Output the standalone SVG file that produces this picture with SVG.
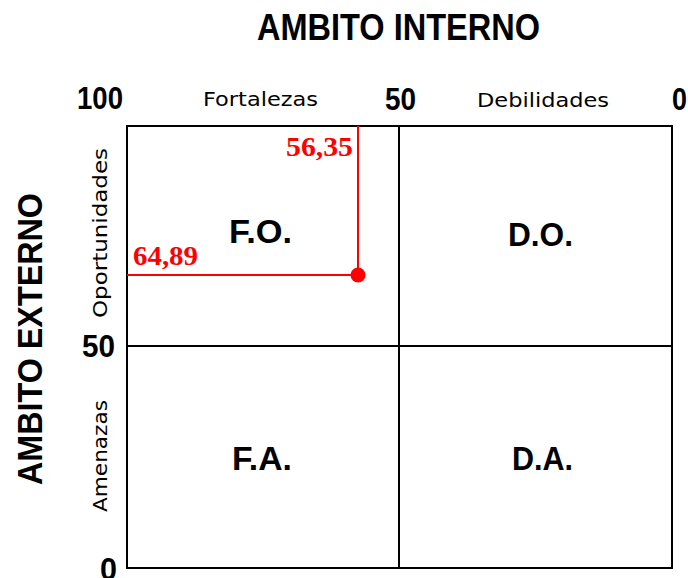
<svg xmlns="http://www.w3.org/2000/svg" width="688" height="578" viewBox="0 0 688 578">
  <style>
    .axis { fill: #000; font-family: "Liberation Sans", Arial, sans-serif; font-weight: bold; }
    .num { fill: #000; font-family: "Liberation Sans", Arial, sans-serif; font-weight: bold; font-size: 31px; }
    .small { fill: #000; font-family: "DejaVu Sans", "Liberation Sans", sans-serif; font-size: 19px; }
    .quad { fill: #000; font-family: "Liberation Sans", Arial, sans-serif; font-weight: bold; font-size: 34px; }
    .red { fill: #ff0000; font-family: "Liberation Serif", "Times New Roman", serif; font-weight: bold; font-size: 27px; }
    .frame { fill: none; stroke: #000; stroke-width: 2; }
    .rline { fill: none; stroke: #ff0000; stroke-width: 2; }
  </style>
  <rect width="688" height="578" fill="#fff"/>

  <g id="titles">
    <text class="axis" x="257" y="40" font-size="36" textLength="283" lengthAdjust="spacingAndGlyphs">AMBITO INTERNO</text>
    <text class="axis" font-size="35" transform="translate(42,339) rotate(-90)" text-anchor="middle" textLength="292" lengthAdjust="spacingAndGlyphs">AMBITO EXTERNO</text>
  </g>

  <g id="scale">
    <text class="num" x="77" y="109" textLength="46" lengthAdjust="spacingAndGlyphs">100</text>
    <text class="num" x="385" y="110" textLength="31" lengthAdjust="spacingAndGlyphs">50</text>
    <text class="num" x="672" y="110" textLength="15" lengthAdjust="spacingAndGlyphs">0</text>
    <text class="num" x="82" y="357" textLength="33" lengthAdjust="spacingAndGlyphs">50</text>
    <text class="num" x="100" y="580" textLength="17" lengthAdjust="spacingAndGlyphs">0</text>
    <text class="small" x="203" y="106" textLength="115" lengthAdjust="spacingAndGlyphs">Fortalezas</text>
    <text class="small" x="477" y="107" textLength="132" lengthAdjust="spacingAndGlyphs">Debilidades</text>
    <text class="small" transform="translate(107,233) rotate(-90)" text-anchor="middle" textLength="170" lengthAdjust="spacingAndGlyphs">Oportunidades</text>
    <text class="small" transform="translate(107,456) rotate(-90)" text-anchor="middle" textLength="112" lengthAdjust="spacingAndGlyphs">Amenazas</text>
  </g>

  <g id="matrix">
    <rect class="frame" x="127" y="126" width="545" height="442"/>
    <line class="frame" x1="399" y1="126" x2="399" y2="568"/>
    <line class="frame" x1="127" y1="346" x2="672" y2="346"/>
  </g>

  <g id="quadrant-fo"><text class="quad" x="229" y="243" textLength="63" lengthAdjust="spacingAndGlyphs">F.O.</text></g>
  <g id="quadrant-do"><text class="quad" x="508" y="246" textLength="65" lengthAdjust="spacingAndGlyphs">D.O.</text></g>
  <g id="quadrant-fa"><text class="quad" x="232" y="470" textLength="60" lengthAdjust="spacingAndGlyphs">F.A.</text></g>
  <g id="quadrant-da"><text class="quad" x="512" y="470" textLength="61" lengthAdjust="spacingAndGlyphs">D.A.</text></g>

  <g id="point">
    <line class="rline" x1="358" y1="126" x2="358" y2="275"/>
    <line class="rline" x1="127" y1="275" x2="358" y2="275"/>
    <circle cx="358" cy="275" r="7.5" fill="#ff0000"/>
    <text class="red" x="286" y="156" textLength="67" lengthAdjust="spacingAndGlyphs">56,35</text>
    <text class="red" x="133" y="265" textLength="65" lengthAdjust="spacingAndGlyphs">64,89</text>
  </g>
</svg>
